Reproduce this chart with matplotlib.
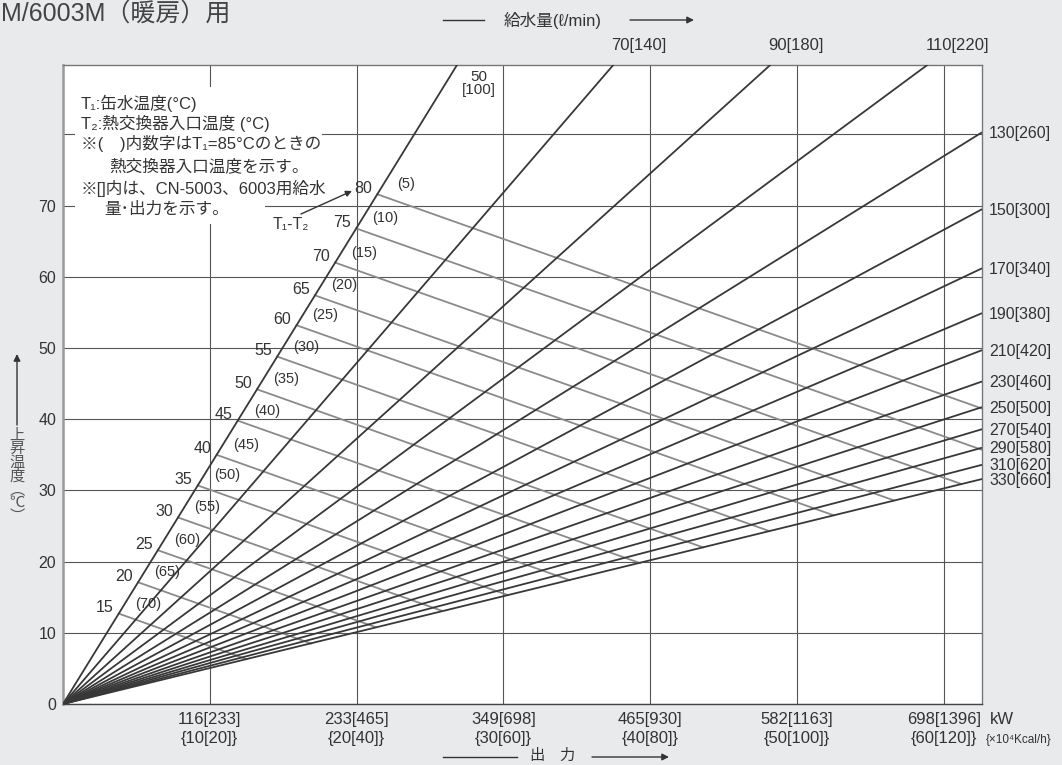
import matplotlib.pyplot as plt
from matplotlib.patches import Rectangle
from matplotlib.lines import Line2D

plt.rcParams['font.family'] = ['Liberation Sans', 'Noto Sans CJK JP', 'DejaVu Sans']

W, H = 1062, 765
TXT = '#333333'

# flow lines (L/min), with the [CN-5003/6003] flow, and the point where each line leaves the frame
flows = [50, 70, 90, 110, 130, 150, 170, 190, 210, 230, 250, 270, 290, 310, 330]
flows_cn = [100, 140, 180, 220, 260, 300, 340, 380, 420, 460, 500, 540, 580, 620, 660]
end_q = [26.85, 37.5, 48.2, 58.9, 62.6, 62.6, 62.6, 62.6, 62.6, 62.6, 62.6, 62.6, 62.6, 62.6, 62.6]
end_dt = [89.8, 89.8, 89.8, 89.8, 80.3, 69.5, 61.2, 54.9, 49.7, 45.3, 41.7, 38.6, 36.0, 33.6, 31.6]

# T1-T2 lines: start on the 50 L/min line, end on the 330 L/min line or the right edge
t_diff = [80, 75, 70, 65, 60, 55, 50, 45, 40, 35, 30, 25, 20, 15]
t_inlet = [5, 10, 15, 20, 25, 30, 35, 40, 45, 50, 55, 60, 65, 70]
gray_start_dt = [71.6, 66.8, 62.0, 57.4, 53.2, 48.8, 44.2, 39.8, 35.0, 30.7, 26.2, 21.6, 17.1, 12.7]
gray_end_q = [62.6, 62.6, 61.2, 56.6, 52.5, 48.1, 43.6, 39.3, 34.5, 30.3, 25.8, 21.3, 16.9, 12.5]
gray_end_dt = [41.5, 35.7, 30.9, 28.6, 26.5, 24.3, 22.0, 19.8, 17.4, 15.3, 13.1, 10.8, 8.5, 6.3]

# output axis: x10^4 kcal/h, kW and the [CN] values
q_ticks = [10, 20, 30, 40, 50, 60]
q_cn = [20, 40, 60, 80, 100, 120]
kw = [116, 233, 349, 465, 582, 698]
kw_cn = [233, 465, 698, 930, 1163, 1396]
dt_ticks = [0, 10, 20, 30, 40, 50, 60, 70, 80]

notes = [
    ('T₁:缶水温度(°C)', 81, 103),
    ('T₂:熱交換器入口温度 (°C)', 81, 123),
    ('※(　)内数字はT₁=85°Cのときの', 81, 144),
    ('熱交換器入口温度を示す。', 109, 166),
    ('※[]内は、CN-5003、6003用給水', 81, 188),
    ('量･出力を示す。', 104, 209),
]


def px(x, y):
    return (x / W, 1 - y / H)


fig = plt.figure(figsize=(W / 100, H / 100), dpi=100)
fig.patch.set_facecolor('#e9eaec')
ax = fig.add_axes([63 / W, 1 - 704 / H, (982 - 63) / W, (704 - 64.7) / H])
ax.set_facecolor('white')
ax.set_xlim(0, 62.6)
ax.set_ylim(0, 89.8)

ax.set_xticks(q_ticks)
ax.set_xticklabels([f'{a}[{b}]\n{{{c}[{d}]}}' for a, b, c, d in zip(kw, kw_cn, q_ticks, q_cn)],
                   linespacing=1.3)
ax.set_yticks(dt_ticks)
ax.set_yticklabels([str(v) if v < 80 else '' for v in dt_ticks])
ax.tick_params(length=0, colors=TXT)
ax.tick_params(axis='x', pad=6, labelsize=12)
ax.tick_params(axis='y', pad=5, labelsize=11.5)
ax.set_axisbelow(True)
ax.grid(color='#555555', lw=0.8)
for side, c, w in [('left', '#9a9a9a', 1.8), ('top', '#777777', 1.0),
                   ('right', '#777777', 1.0), ('bottom', '#444444', 1.0)]:
    ax.spines[side].set_color(c)
    ax.spines[side].set_linewidth(w)

# white area behind the notes
for x0, x1, y0, y1 in [(75, 322, 87, 198), (75, 265, 198, 224)]:
    fig.add_artist(Rectangle(px(x0, y1), (x1 - x0) / W, (y1 - y0) / H, transform=fig.transFigure,
                             facecolor='white', edgecolor='none', zorder=1))

# flow lines from the origin
for qe, de in zip(end_q, end_dt):
    ax.plot([0, qe], [0, de], color='#383838', lw=1.3, zorder=3, solid_capstyle='butt')

# T1-T2 lines
slope50 = end_q[0] / end_dt[0]
for d, t, s, qe, de in zip(t_diff, t_inlet, gray_start_dt, gray_end_q, gray_end_dt):
    q0 = s * slope50
    ax.plot([q0, qe], [s, de], color='#8a8a8a', lw=1.3, zorder=2.5)
    ax.annotate(str(d), (q0, s), xytext=(-14, 6), textcoords='offset pixels',
                ha='center', va='center', fontsize=11.5, color=TXT, zorder=5)
    ax.annotate(f'({t})', (q0, s), xytext=(29, 10), textcoords='offset pixels',
                ha='center', va='center', fontsize=10.5, color=TXT, zorder=5)

# flow labels along the top and the right edge
fig.text(*px(479, 77), str(flows[0]), ha='center', va='center', fontsize=11, color=TXT, zorder=5)
fig.text(*px(479, 90), f'[{flows_cn[0]}]', ha='center', va='center', fontsize=11, color=TXT, zorder=5)
for f, fc, qe, de in zip(flows[1:4], flows_cn[1:4], end_q[1:4], end_dt[1:4]):
    ax.annotate(f'{f}[{fc}]', (qe, de), xytext=(-2, 19), textcoords='offset pixels',
                ha='left', va='center', fontsize=12, color=TXT, annotation_clip=False)
for f, fc, qe, de in zip(flows[4:], flows_cn[4:], end_q[4:], end_dt[4:]):
    ax.annotate(f'{f}[{fc}]', (qe, de), xytext=(7, -1), textcoords='offset pixels',
                ha='left', va='center', fontsize=11.5, color=TXT, annotation_clip=False)

# notes block
for s, x, y in notes:
    fig.text(*px(x, y), s, ha='left', va='center', fontsize=12, color=TXT, zorder=5)
fig.text(*px(291, 225), 'T₁-T₂', ha='center', va='center', fontsize=11.5, color=TXT, zorder=5)
ax.annotate('', xy=px(352, 191), xytext=px(301, 214), xycoords='figure fraction',
            textcoords='figure fraction',
            arrowprops=dict(arrowstyle='-|>', color='#333333', lw=1.0, mutation_scale=9,
                            shrinkA=0, shrinkB=0), zorder=5)

# title
fig.text(*px(1, 21), 'M/6003M（暖房）用', ha='left', va='baseline', fontsize=18, color='#444444')

# top axis caption
fig.add_artist(Line2D([443 / W, 484 / W], [1 - 20 / H] * 2, color='#333333', lw=1.0))
fig.text(*px(553, 20), '給水量(ℓ/min)', ha='center', va='center', fontsize=12, color=TXT)
ax.annotate('', xy=px(694, 20), xytext=px(630, 20), xycoords='figure fraction',
            textcoords='figure fraction',
            arrowprops=dict(arrowstyle='-|>', color='#333333', lw=1.0, mutation_scale=10,
                            shrinkA=0, shrinkB=0))

# bottom axis caption
fig.add_artist(Line2D([443 / W, 517 / W], [1 - 757 / H] * 2, color='#333333', lw=1.0))
fig.text(*px(537, 756), '出', ha='center', va='center', fontsize=11, color=TXT)
fig.text(*px(567, 756), '力', ha='center', va='center', fontsize=11, color=TXT)
ax.annotate('', xy=px(669, 757), xytext=px(592, 757), xycoords='figure fraction',
            textcoords='figure fraction',
            arrowprops=dict(arrowstyle='-|>', color='#333333', lw=1.0, mutation_scale=10,
                            shrinkA=0, shrinkB=0))
fig.text(*px(990, 720), 'kW', ha='left', va='center', fontsize=12, color=TXT)
fig.text(*px(986, 740), '{×10⁴Kcal/h}', ha='left', va='center', fontsize=8.5, color=TXT)

# vertical axis caption
ax.annotate('', xy=px(17, 354), xytext=px(17, 425), xycoords='figure fraction',
            textcoords='figure fraction',
            arrowprops=dict(arrowstyle='-|>', color='#333333', lw=1.0, mutation_scale=10,
                            shrinkA=0, shrinkB=0))
fig.text(*px(17, 476), '上\n昇\n温\n度\n︵\n℃\n︶', ha='center', va='center', fontsize=11,
         linespacing=0.95, color='#555555')

fig.savefig('out.png', dpi=100, facecolor=fig.get_facecolor())
